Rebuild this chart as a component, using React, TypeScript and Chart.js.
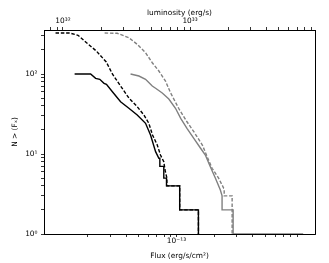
import React, { useEffect, useRef } from 'react';
import { Chart, registerables } from 'chart.js';

Chart.register(...registerables);

// ---- axis ranges ----
const FLUX_MIN = 9.14e-15;
const FLUX_MAX = 1.24e-12;
const LUM_PER_FLUX = 7.76e45; // luminosity = flux * 4*pi*d^2
const N_MIN = 1;
const N_MAX = 355;

// ---- series (flux in erg/s/cm^2, N(>F)) ----
// black solid
const BS_FLUX = [1.57e-14, 2.1e-14, 2.3e-14, 2.48e-14, 2.68e-14, 2.8e-14, 3.12e-14, 3.62e-14, 4.21e-14, 4.9e-14, 5.7e-14, 6.24e-14, 6.84e-14, 7.26e-14, 7.39e-14, 7.39e-14, 7.94e-14, 7.94e-14, 8.34e-14, 8.34e-14, 1.06e-13, 1.06e-13, 1.49e-13, 1.49e-13];
const BS_N = [100, 100, 88.3, 85.9, 76.5, 74.3, 60.1, 45.1, 37.3, 30.7, 24.2, 17.3, 10.7, 8.84, 8.84, 7, 7, 5, 5, 4, 4, 2, 2, 1];

// black dashed
const BD_FLUX = [1.11e-14, 1.44e-14, 1.67e-14, 1.95e-14, 2.33e-14, 2.79e-14, 3.12e-14, 3.62e-14, 4.21e-14, 4.9e-14, 5.53e-14, 6.05e-14, 6.47e-14, 7.05e-14, 7.48e-14, 7.94e-14, 8.12e-14, 8.4e-14, 8.4e-14, 1.06e-13, 1.06e-13, 1.49e-13, 1.49e-13];
const BD_N = [325, 325, 304.6, 246.2, 193.9, 141.3, 100, 70.8, 50.1, 39.0, 30.7, 24.2, 17.3, 12.96, 9.72, 8.01, 6.31, 5, 4, 4, 2, 2, 1];

// grey dashed
const GD_FLUX = [2.71e-14, 3.41e-14, 4.21e-14, 4.9e-14, 5.7e-14, 6.44e-14, 7.26e-14, 8.19e-14, 8.97e-14, 1.04e-13, 1.21e-13, 1.37e-13, 1.6e-13, 1.75e-13, 1.91e-13, 2.15e-13, 2.36e-13, 2.38e-13, 2.38e-13, 2.75e-13, 2.75e-13];
const GD_N = [325, 323, 284.3, 235, 184.6, 138.4, 109.0, 81.7, 58.4, 37.3, 25.3, 19.0, 12.96, 9.17, 6.63, 5.0, 3.73, 3.7, 3, 3, 1];

// grey solid
const GS_FLUX = [4.34e-14, 5.05e-14, 5.7e-14, 6.44e-14, 6.84e-14, 7.72e-14, 8.7e-14, 9.82e-14, 1.08e-13, 1.21e-13, 1.37e-13, 1.55e-13, 1.69e-13, 1.85e-13, 2.03e-13, 2.22e-13, 2.29e-13, 2.29e-13, 2.8e-13, 2.8e-13, 1.0e-12];
const GS_N = [100, 94.4, 85.9, 70.8, 66.3, 57.9, 48.7, 37.3, 27.9, 20.96, 15.7, 11.8, 9.72, 6.94, 4.97, 3.55, 3, 2, 2, 1, 1];

// ---- ticks ----
const X_MINOR = [2e-14, 3e-14, 4e-14, 5e-14, 6e-14, 7e-14, 8e-14, 9e-14, 2e-13, 3e-13, 4e-13, 5e-13, 6e-13, 7e-13, 8e-13, 9e-13];
const X_MAJOR = [1e-13];
const X_MAJOR_LABELS = ['10\u207B\u00B9\u00B3'];

const TOP_MINOR = [8e31, 9e31, 2e32, 3e32, 4e32, 5e32, 6e32, 7e32, 8e32, 9e32, 2e33, 3e33, 4e33, 5e33, 6e33, 7e33, 8e33, 9e33];
const TOP_MAJOR = [1e32, 1e33];
const TOP_MAJOR_LABELS = ['10\u00B3\u00B2', '10\u00B3\u00B3'];

const Y_MINOR = [2, 3, 4, 5, 6, 7, 8, 9, 20, 30, 40, 50, 60, 70, 80, 90, 200, 300];
const Y_MAJOR = [1, 10, 100];
const Y_MAJOR_LABELS = ['10\u2070', '10\u00B9', '10\u00B2'];

const FONT = { family: 'DejaVu Sans', size: 7.4 };
const GREY = '#808080';

function pairs(xs: number[], ys: number[]) {
  return xs.map((x, i) => ({ x, y: ys[i] }));
}

function tickSetter(minor: number[], major: number[]) {
  return (axis: any) => {
    const all = [...minor, ...major].filter((v) => v >= axis.min && v <= axis.max).sort((a, b) => a - b);
    axis.ticks = all.map((v) => ({ value: v }));
  };
}

function labeler(major: number[], labels: string[]) {
  return (value: any) => {
    const v = Number(value);
    const i = major.findIndex((m) => Math.abs(Math.log10(m) - Math.log10(v)) < 1e-6);
    return i >= 0 ? labels[i] : '';
  };
}

const rightBorder = {
  id: 'rightBorder',
  afterDraw(chart: any) {
    const { ctx, chartArea } = chart;
    ctx.save();
    ctx.strokeStyle = '#000';
    ctx.lineWidth = 1;
    const x = Math.round(chartArea.right) + 0.5;
    ctx.beginPath();
    ctx.moveTo(x, chartArea.top);
    ctx.lineTo(x, chartArea.bottom);
    ctx.stroke();
    ctx.restore();
  },
};

export default function App() {
  const ref = useRef<HTMLCanvasElement | null>(null);

  useEffect(() => {
    if (!ref.current) return;
    const axisGrid = {
      drawOnChartArea: false,
      drawTicks: true,
      tickLength: 3,
      color: '#000',
      tickColor: '#000',
      lineWidth: 0.8,
    };
    const border = { display: true, color: '#000', width: 1 };
    const line = (data: any, color: string, dashed: boolean) => ({
      data,
      borderColor: color,
      borderWidth: 1.4,
      borderDash: dashed ? [3.5, 1.8] : [],
      pointRadius: 0,
      fill: false,
      tension: 0,
    });
    const chart = new Chart(ref.current, {
      type: 'line',
      data: {
        datasets: [
          line(pairs(BS_FLUX, BS_N), '#000', false),
          line(pairs(BD_FLUX, BD_N), '#000', true),
          line(pairs(GS_FLUX, GS_N), GREY, false),
          line(pairs(GD_FLUX, GD_N), GREY, true),
        ],
      },
      options: {
        responsive: false,
        maintainAspectRatio: false,
        animation: false,
        parsing: false as any,
        layout: { padding: { left: 0, right: 14, top: 0, bottom: 0 } },
        plugins: {
          legend: { display: false },
          tooltip: { enabled: false },
        },
        scales: {
          x: {
            type: 'logarithmic',
            position: 'bottom',
            min: FLUX_MIN,
            max: FLUX_MAX,
            afterBuildTicks: tickSetter(X_MINOR, X_MAJOR),
            afterFit: (s: any) => {
              s.height = 29;
            },
            ticks: {
              callback: labeler(X_MAJOR, X_MAJOR_LABELS),
              autoSkip: false,
              maxRotation: 0,
              minRotation: 0,
              padding: 0,
              font: FONT,
              color: '#000',
            },
            grid: axisGrid,
            border,
            title: {
              display: true,
              text: 'Flux (erg/s/cm\u00B2)',
              font: FONT,
              color: '#000',
              padding: { top: 0, bottom: 2 },
            },
          },
          x2: {
            type: 'logarithmic',
            position: 'top',
            display: true,
            min: FLUX_MIN * LUM_PER_FLUX,
            max: FLUX_MAX * LUM_PER_FLUX,
            afterBuildTicks: tickSetter(TOP_MINOR, TOP_MAJOR),
            afterFit: (s: any) => {
              s.height = 30;
            },
            ticks: {
              callback: labeler(TOP_MAJOR, TOP_MAJOR_LABELS),
              autoSkip: false,
              maxRotation: 0,
              minRotation: 0,
              padding: 1.3,
              font: FONT,
              color: '#000',
            },
            grid: axisGrid,
            border,
            title: {
              display: true,
              text: 'luminosity (erg/s)',
              font: FONT,
              color: '#000',
              padding: { top: 8.2, bottom: 0 },
            },
          },
          y: {
            type: 'logarithmic',
            position: 'left',
            min: N_MIN,
            max: N_MAX,
            afterBuildTicks: tickSetter(Y_MINOR, Y_MAJOR),
            afterFit: (s: any) => {
              s.width = 44;
            },
            ticks: {
              callback: labeler(Y_MAJOR, Y_MAJOR_LABELS),
              autoSkip: false,
              padding: 3.5,
              font: FONT,
              color: '#000',
            },
            grid: axisGrid,
            border,
            title: {
              display: true,
              text: 'N > (F\u2093)',
              font: FONT,
              color: '#000',
              padding: { top: 11, bottom: 0 },
            },
          },
        },
      } as any,
      plugins: [rightBorder],
    });
    return () => chart.destroy();
  }, []);

  return (
    <div style={{ position: 'fixed', left: 0, top: 0, width: 329, height: 263, background: '#fff' }}>
      <canvas ref={ref} width={329} height={263} style={{ width: 329, height: 263, display: 'block' }} />
    </div>
  );
}
